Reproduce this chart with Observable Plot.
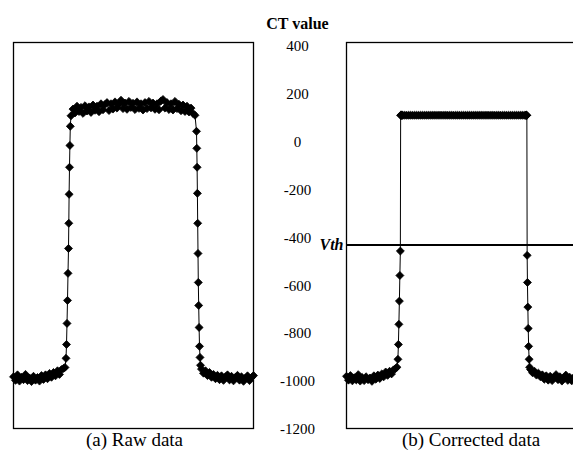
<!DOCTYPE html>
<html>
<head>
<meta charset="utf-8">
<script src="https://cdn.jsdelivr.net/npm/d3@7"></script>
<script src="https://cdn.jsdelivr.net/npm/@observablehq/plot@0.6"></script>
<style>
  html, body { margin: 0; padding: 0; background: #fff; overflow: hidden; }
  #wrap { position: relative; width: 573px; height: 450px; overflow: hidden; background: #fff; }
  .panel { position: absolute; top: 0; }
  .panel svg { max-width: none !important; display: block; }
</style>
</head>
<body>
<div id="wrap">
  <div id="left" class="panel" style="left:0px;width:260px"></div>
  <div id="right" class="panel" style="left:260px;width:330px"></div>
</div>
<script>
// ---- data ----
const panelTitles = ["(a) Raw data", "(b) Corrected data"];
const yLabel = "CT value";
const yTicks = [400, 200, 0, -200, -400, -600, -800, -1000, -1200];
const vth = -430;
const vthLabel = "Vth";

// sample positions along the profile
const pos = [
  0,2,4,6,8,10,12,14,16,18,20,22,24,26,28,30,32,34,36,38,40,42,44,46,48,50,
  51.5,52.5,53,53.5,54,54.5,55,55.3,55.6,56,56.4,56.8,
  57.5,59.5,61.5,63.5,65.5,67.5,69.5,71.5,73.5,75.5,
  77.5,79.5,81.5,83.5,85.5,87.5,89.5,91.5,93.5,95.5,
  97.5,99.5,101.5,103.5,105.5,107.5,109.5,111.5,113.5,115.5,
  117.5,119.5,121.5,123.5,125.5,127.5,129.5,131.5,133.5,135.5,
  137.5,139.5,141.5,143.5,145.5,147.5,149.5,151.5,153.5,155.5,
  157.5,159.5,161.5,163.5,165.5,167.5,169.5,171.5,173.5,175.5,
  177.5,179.5,181.5,
  183,183.3,183.6,183.9,184.2,184.5,184.8,185.2,185.6,186,186.5,187,
  188,190,192,194,196,198,200,202,204,206,
  208,210,212,214,216,218,220,222,224,226,
  228,230,232,234,236,238,240
];

// (a) raw CT values
const rawCT = [
  -980,-995,-972,-998,-982,-992,-970,-996,-985,-1000,
  -978,-994,-983,-998,-975,-991,-972,-988,-966,-982,
  -962,-976,-955,-970,-950,-945,
  -941,-903,-845,-757,-661,-548,-444,-339,-218,-105,-14,66,
  110,138,122,150,128,145,120,152,130,147,
  124,155,133,150,127,160,135,157,165,132,
  160,138,168,142,158,175,140,163,137,170,
  145,162,136,168,141,160,134,165,140,170,
  143,163,137,160,135,172,178,142,165,136,
  160,134,170,140,158,131,155,128,150,126,
  142,120,112,
  45,-26,-105,-214,-339,-465,-586,-682,-774,-853,-899,-932,
  -948,-965,-955,-975,-962,-982,-970,-988,-974,-992,
  -976,-995,-980,-972,-993,-978,-997,-982,-974,-994,
  -980,-999,-985,-976,-996,-983,-975
];

// (b) corrected CT values
const corrCT = [
  -978,-994,-975,-997,-984,-993,-971,-998,-983,-996,
  -980,-992,-985,-999,-976,-990,-973,-987,-968,-980,
  -960,-974,-957,-968,-951,-946,
  -940,-907,-845,-761,-664,-557,-455,112,112,112,112,112,
  112,112,112,112,112,112,112,112,112,112,
  112,112,112,112,112,112,112,112,112,112,
  112,112,112,112,112,112,112,112,112,112,
  112,112,112,112,112,112,112,112,112,112,
  112,112,112,112,112,112,112,112,112,112,
  112,112,112,112,112,112,112,112,112,112,
  112,112,112,
  112,112,112,112,112,-473,-586,-689,-778,-853,-907,-940,
  -950,-963,-957,-973,-965,-980,-972,-990,-976,-994,
  -978,-996,-982,-971,-992,-980,-998,-984,-973,-995,
  -982,-997,-986,-975,-995,-984,-977
];

const rows = pos.map((p, i) => ({pos: p, raw: rawCT[i], corr: corrCT[i]}));

// ---- drawing ----
const font = "'Liberation Serif', 'Times New Roman', Tinos, 'DejaVu Serif', serif";
const diamond = {
  draw(context, size) {
    const r = Math.sqrt(size) * 0.62625;
    context.moveTo(0, -r);
    context.lineTo(r, 0);
    context.lineTo(0, r);
    context.lineTo(-r, 0);
    context.closePath();
  }
};
const yDomain = [-1196, 416];
const common = {
  height: 450,
  marginTop: 42,
  marginBottom: 22,
  style: {background: "white", color: "black", overflow: "visible"},
  x: {domain: [0, 240], axis: null},
  y: {domain: yDomain, axis: null}
};
const txt = {fill: "black", fontFamily: font};
const dotOpts = {symbol: diamond, r: 3.6, fill: "black", stroke: "black", strokeWidth: 0.8};

const left = Plot.plot({
  ...common,
  width: 260,
  marginLeft: 13,
  marginRight: 7,
  marks: [
    Plot.frame({stroke: "black", strokeWidth: 1.3}),
    Plot.line(rows, {x: "pos", y: "raw", stroke: "black", strokeWidth: 1}),
    Plot.dot(rows, {x: "pos", y: "raw", ...dotOpts}),
    Plot.text([panelTitles[0]], {...txt, frameAnchor: "bottom", lineAnchor: "middle", dy: 11, dx: 1, fontSize: 19})
  ]
});

const right = Plot.plot({
  ...common,
  width: 330,
  marginLeft: 86,
  marginRight: 9,
  marks: [
    Plot.frame({stroke: "black", strokeWidth: 1.3}),
    Plot.ruleY([vth], {stroke: "black", strokeWidth: 2}),
    Plot.line(rows, {x: "pos", y: "corr", stroke: "black", strokeWidth: 1}),
    Plot.dot(rows, {x: "pos", y: "corr", ...dotOpts}),
    Plot.text(yTicks, {...txt, y: d => d, text: d => String(d), frameAnchor: "left", dx: -49, textAnchor: "middle", fontSize: 15}),
    Plot.text([yLabel], {...txt, frameAnchor: "top-left", lineAnchor: "middle", dx: -49, dy: -19, textAnchor: "middle", fontSize: 16, fontWeight: "bold"}),
    Plot.text([vthLabel], {...txt, y: [vth], frameAnchor: "left", dx: -3, textAnchor: "end", fontSize: 16, fontWeight: "bold", fontStyle: "italic"}),
    Plot.text([panelTitles[1]], {...txt, frameAnchor: "bottom", lineAnchor: "middle", dy: 11, dx: 7, fontSize: 19})
  ]
});

document.getElementById("left").appendChild(left);
document.getElementById("right").appendChild(right);
</script>
</body>
</html>
